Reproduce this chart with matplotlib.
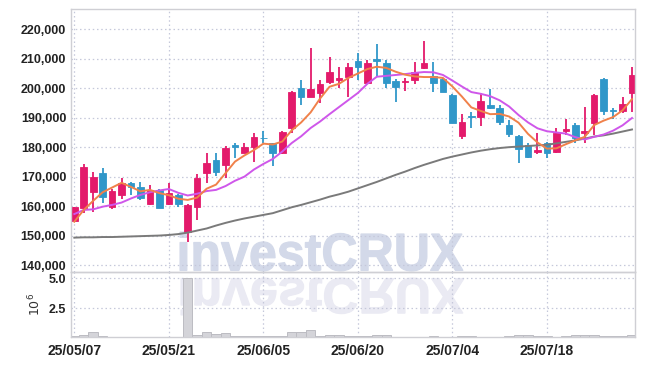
import numpy as np
import pandas as pd
import matplotlib
matplotlib.use("Agg")
import matplotlib.pyplot as plt
from matplotlib.textpath import TextPath
from matplotlib.patches import PathPatch
from matplotlib.font_manager import FontProperties
from matplotlib.transforms import Affine2D
from matplotlib.ticker import FuncFormatter

# trading days (KRX, 2025-05-07 .. 2025-07-31)
dates = pd.bdate_range("2025-05-07", "2025-07-31")
dates = dates[~dates.isin(pd.to_datetime(["2025-06-03", "2025-06-06"]))]

# prices in thousands of won
opens = [155.0, 159.5, 164.9, 171.1, 159.8, 163.8, 167.8, 166.5, 160.7, 165.5,
         160.7, 163.8, 151.3, 159.8, 171.1, 175.6, 173.9, 180.7, 178.1, 179.9,
         183.2, 181.3, 177.9, 186.4, 200.0, 197.1, 198.3, 202.2, 202.9, 203.9,
         209.2, 201.9, 209.9, 208.7, 202.4, 202.0, 202.8, 207.0, 204.3, 203.0,
         197.7, 183.8, 190.6, 190.3, 194.3, 193.3, 187.5, 183.8, 180.7, 178.5,
         181.3, 178.5, 185.6, 187.5, 184.7, 188.1, 203.1, 192.6, 192.4, 198.5]
highs = [159.8, 174.2, 171.7, 172.8, 165.7, 169.4, 168.3, 168.1, 167.2, 165.8,
         167.7, 164.0, 160.6, 170.9, 177.9, 178.1, 180.4, 181.3, 181.3, 184.7,
         185.6, 181.5, 185.5, 199.0, 202.8, 213.5, 202.8, 210.7, 207.3, 208.5,
         211.8, 209.6, 215.0, 209.6, 203.0, 203.4, 209.0, 216.0, 209.0, 203.4,
         197.9, 191.3, 192.1, 198.3, 199.6, 194.3, 189.2, 184.1, 181.3, 184.7,
         181.9, 186.4, 189.4, 188.3, 193.7, 197.9, 203.4, 193.4, 197.1, 207.3]
lows = [154.7, 157.8, 158.1, 161.2, 158.9, 162.5, 163.8, 162.0, 160.4, 159.4,
        160.4, 159.8, 147.9, 155.3, 167.7, 170.2, 169.4, 176.2, 178.0, 175.1,
        181.3, 173.6, 177.7, 184.7, 194.3, 197.0, 194.9, 201.4, 200.0, 197.1,
        202.8, 201.4, 203.9, 200.0, 195.2, 199.1, 201.4, 206.4, 198.8, 198.8,
        188.1, 182.7, 186.4, 187.2, 192.8, 187.5, 183.6, 174.5, 176.2, 177.7,
        176.2, 178.1, 184.1, 181.5, 181.3, 184.1, 190.9, 189.4, 191.5, 192.1]
closes = [159.6, 173.4, 170.0, 163.2, 165.1, 167.9, 166.4, 162.6, 165.5, 159.5,
          164.3, 160.7, 160.4, 169.4, 174.5, 171.7, 179.8, 179.9, 180.2, 183.3,
          183.0, 177.9, 185.3, 198.8, 197.1, 199.7, 201.4, 205.6, 203.6, 207.3,
          207.3, 208.7, 209.4, 201.9, 200.5, 202.6, 205.4, 208.7, 201.9, 198.8,
          188.3, 188.4, 190.1, 195.8, 193.4, 188.6, 184.3, 179.3, 176.8, 179.1,
          177.9, 184.9, 186.2, 183.2, 185.5, 197.7, 192.4, 192.2, 194.5, 204.5]
ma5 = [154.7, 158.7, 161.8, 164.7, 166.3, 167.9, 166.5, 165.0, 165.5, 164.4,
       163.7, 162.5, 162.1, 162.9, 165.9, 167.3, 171.2, 175.1, 177.2, 179.0,
       181.2, 180.9, 181.9, 185.7, 188.4, 191.8, 196.5, 200.5, 201.5, 203.5,
       205.0, 206.5, 207.3, 206.9, 205.6, 204.6, 204.0, 203.8, 203.8, 203.5,
       200.6, 197.2, 193.5, 192.3, 191.2, 191.3, 190.4, 188.3, 184.5, 181.6,
       179.5, 179.6, 181.0, 182.3, 183.5, 187.5, 189.0, 190.2, 192.5, 196.3]
ma10 = [157.3, 158.7, 158.9, 159.8, 160.4, 161.2, 162.6, 163.8, 164.7, 165.3,
        165.8, 164.5, 163.6, 164.2, 165.1, 165.5, 166.8, 168.6, 170.0, 172.4,
        174.3, 176.0, 178.5, 181.4, 183.7, 186.5, 188.7, 191.2, 193.6, 196.0,
        198.4, 201.5, 203.9, 204.2, 204.5, 204.8, 205.2, 205.5, 205.4, 204.5,
        202.6, 200.6, 198.7, 198.1, 197.3, 195.9, 193.8, 190.9, 188.4, 186.4,
        185.4, 185.0, 184.6, 183.4, 182.6, 183.5, 184.3, 185.6, 187.4, 189.9]
ma60 = [149.3, 149.4, 149.4, 149.5, 149.5, 149.6, 149.7, 149.8, 149.9, 150.0,
        150.2, 150.5, 151.0, 151.7, 152.4, 153.4, 154.3, 155.1, 155.8, 156.4,
        157.0, 157.6, 158.6, 159.6, 160.4, 161.3, 162.2, 163.2, 164.0, 164.9,
        166.0, 167.1, 168.2, 169.4, 170.6, 171.7, 172.9, 174.0, 175.0, 176.0,
        176.8, 177.5, 178.2, 178.8, 179.3, 179.7, 180.0, 180.2, 180.4, 180.6,
        180.8, 181.3, 181.8, 182.3, 182.9, 183.6, 184.0, 184.6, 185.3, 186.0]
# volume in millions of shares
volumes = [0.15, 0.28, 0.48, 0.22, 0.12, 0.10, 0.08, 0.08, 0.08, 0.08,
           0.07, 0.05, 5.00, 0.30, 0.55, 0.38, 0.45, 0.22, 0.17, 0.20,
           0.22, 0.15, 0.17, 0.50, 0.50, 0.65, 0.17, 0.25, 0.25, 0.20,
           0.18, 0.15, 0.28, 0.28, 0.12, 0.12, 0.12, 0.14, 0.15, 0.10,
           0.10, 0.15, 0.15, 0.12, 0.12, 0.12, 0.15, 0.28, 0.28, 0.15,
           0.15, 0.12, 0.15, 0.28, 0.28, 0.30, 0.20, 0.18, 0.15, 0.28]

UP = "#e31a6b"
DOWN = "#3097c9"
GRID = "#c5c8da"
SPINE = "#cfcfd4"

o = np.array(opens) * 1000
h = np.array(highs) * 1000
l = np.array(lows) * 1000
c = np.array(closes) * 1000
x = np.arange(len(o))
colors = [UP if cc >= oo else DOWN for oo, cc in zip(o, c)]

plt.rcParams["font.family"] = ["Liberation Sans", "DejaVu Sans"]

W, H = 645, 366
fig = plt.figure(figsize=(W / 100, H / 100), dpi=100)
ax = fig.add_axes([71 / W, 1 - 272.3 / H, (635.3 - 71) / W, (272.3 - 9) / H])
ax_vol = fig.add_axes([71 / W, 1 - 337 / H, (635.3 - 71) / W, (337 - 272.3) / H], sharex=ax)
for a in (ax, ax_vol):
    a.set_facecolor("none")
    for s in a.spines.values():
        s.set_color(SPINE)
        s.set_linewidth(1.0)
    a.grid(True, color=GRID, linestyle=(0, (1.2, 2.2)), linewidth=0.9)
    a.tick_params(length=0, labelsize=9, colors="#222222")
    a.set_axisbelow(True)

# watermark + reflection, drawn on the figure behind the axes
tp = TextPath((0, 0), "investCRUX", size=1,
              prop=FontProperties(family="Liberation Sans", weight="bold"))
ext = tp.get_extents()
sx = (283 / W) / ext.width
tr = (Affine2D().translate(-ext.x0, -ext.y0)
      .scale(sx, (39 / H) / ext.height).translate(180 / W, 1 - 271 / H) + fig.transFigure)
fig.patches.append(PathPatch(tp, transform=tr, facecolor="#d3d9e9", edgecolor="#d3d9e9",
                             linewidth=0.8, zorder=-5))
tr2 = (Affine2D().translate(-ext.x0, -ext.y0)
       .scale(sx, -(37 / H) / ext.height).translate(181 / W, 1 - 278 / H) + fig.transFigure)
fig.patches.append(PathPatch(tp, transform=tr2, facecolor="#eaeaf3", edgecolor="#eaeaf3",
                             linewidth=0.8, zorder=-5))

# candles
body_lo = np.minimum(o, c)
body_h = np.maximum(np.abs(c - o), 250)
ax.vlines(x, l, h, colors=colors, linewidth=1.3, zorder=2)
ax.bar(x, body_h, bottom=body_lo, width=0.7, color=colors, edgecolor=colors,
       linewidth=0.6, zorder=2)

ax.plot(x, np.array(ma60) * 1000, color="#7a7a7a", linewidth=1.4, zorder=3)
ax.plot(x, np.array(ma10) * 1000, color="#cf57ea", linewidth=1.4, zorder=3)
ax.plot(x, np.array(ma5) * 1000, color="#f0814a", linewidth=1.4, zorder=3)

ax.set_ylim(137530, 226890)
ax.set_yticks(np.arange(140000, 220001, 10000))
ax.yaxis.set_major_formatter(FuncFormatter(lambda v, p: f"{v:,.0f}"))
ax.set_xlim(-0.35, 59.35)
ax.tick_params(axis="x", labelbottom=False)
for lab in ax.get_yticklabels():
    lab.set_fontweight("bold")

# volume
ax_vol.bar(x, volumes, width=1.0, color="#d4d4d9", edgecolor="#bcbcc2", linewidth=0.7, zorder=2)
ax_vol.set_ylim(0.1, 5.5)
ax_vol.set_yticks([2.5, 5.0])
ax_vol.set_yticklabels(["2.5", "5.0"])
ax_vol.set_ylabel(r"$10^6$", fontsize=9, color="#333333", labelpad=4)
tick_pos = x[::10]
ax_vol.set_xticks(tick_pos)
ax_vol.set_xticklabels([d.strftime("%y/%m/%d") for d in dates[::10]], fontsize=10)
ax_vol.tick_params(axis="x", pad=5)
for lab in ax_vol.get_yticklabels() + ax_vol.get_xticklabels():
    lab.set_fontweight("bold")

fig.savefig("out.png", dpi=100)
